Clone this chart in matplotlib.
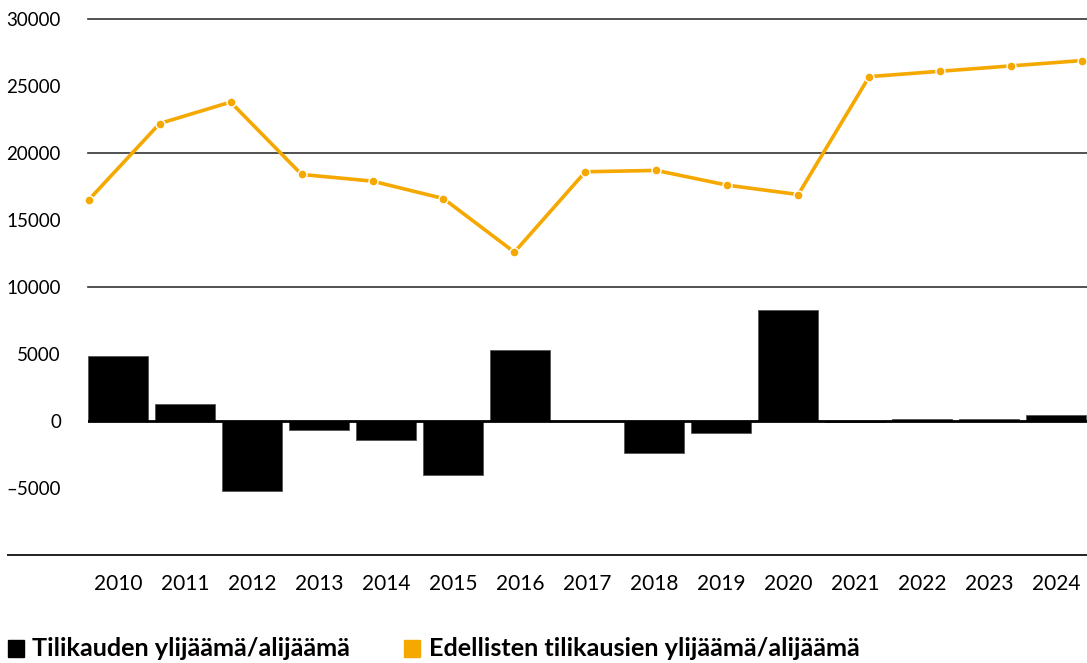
import matplotlib
matplotlib.use("Agg")
import matplotlib.pyplot as plt
from matplotlib.patches import Rectangle
from matplotlib.lines import Line2D

years = ["2010", "2011", "2012", "2013", "2014", "2015", "2016", "2017",
         "2018", "2019", "2020", "2021", "2022", "2023", "2024"]
tilikauden = [4850, 1300, -5200, -700, -1400, -4000, 5300, 0,
              -2400, -900, 8300, -100, 150, 150, 450]
edellisten = [16500, 22200, 23800, 18400, 17900, 16600, 12600, 18600,
              18700, 17600, 16900, 25700, 26100, 26500, 26900]
yticks = [-5000, 0, 5000, 10000, 15000, 20000, 25000, 30000]
gridvals = [10000, 20000, 30000]
legend_labels = ["Tilikauden ylijäämä/alijäämä", "Edellisten tilikausien ylijäämä/alijäämä"]

plt.rcParams['font.family'] = ['Lato', 'DejaVu Sans']
BLACK = "#000000"
ORANGE = "#F5A800"

W, H = 1087, 663
fig = plt.figure(figsize=(W / 100, H / 100), dpi=100)
left, right, top, bottom = 88, 1087, 19, 555
ax = fig.add_axes([left / W, 1 - bottom / H, (right - left) / W, (bottom - top) / H])

x = list(range(len(years)))
ax.bar(x, tilikauden, width=0.9, color=BLACK, edgecolor="#555555", linewidth=0.6, zorder=3)
ax.set_xlim(-0.45, 14.46)
ax.set_ylim(-10000, 30000)

for g in gridvals:
    ax.axhline(g, color="#333333", linewidth=1.2, zorder=1, clip_on=False)
ax.axhline(0, color=BLACK, linewidth=2.0, zorder=4)
# bottom baseline extends across legend area to the left
fig.lines.append(Line2D([8 / W, 1.0], [1 - bottom / H, 1 - bottom / H],
                        transform=fig.transFigure, color="#222222", linewidth=1.4))

for s in ax.spines.values():
    s.set_visible(False)
ax.set_yticks(yticks)
ax.set_yticklabels([str(v).replace("-", "\u2013") for v in yticks], fontsize=13.5)
ax.set_xticks(x)
ax.set_xticklabels(years, fontsize=15)
ax.tick_params(axis="y", length=0, pad=19.5)
ax.tick_params(axis="x", length=0, pad=14)

ax2 = ax.twiny()
ax2.plot(range(len(years)), edellisten, color=ORANGE, linewidth=2.6,
         marker="o", markersize=6.5, markerfacecolor=ORANGE,
         markeredgecolor="white", markeredgewidth=1.0, zorder=5, clip_on=False)
ax2.set_xlim(-0.01, len(years) - 1 + 0.07)
ax2.set_ylim(-10000, 30000)
ax2.set_xticks([])
for s in ax2.spines.values():
    s.set_visible(False)

# legend
fig.patches.append(Rectangle((8 / W, 1 - 657 / H), 16 / W, 17 / H,
                             transform=fig.transFigure, color=BLACK, figure=fig))
fig.text(32 / W, 1 - 648 / H, legend_labels[0], fontsize=18.2, fontweight="bold",
         va="center", ha="left", color=BLACK)
fig.patches.append(Rectangle((404 / W, 1 - 657 / H), 16 / W, 17 / H,
                             transform=fig.transFigure, color=ORANGE, figure=fig))
fig.text(429 / W, 1 - 648 / H, legend_labels[1], fontsize=18.2, fontweight="bold",
         va="center", ha="left", color=BLACK)

fig.savefig("out.png", dpi=100)
